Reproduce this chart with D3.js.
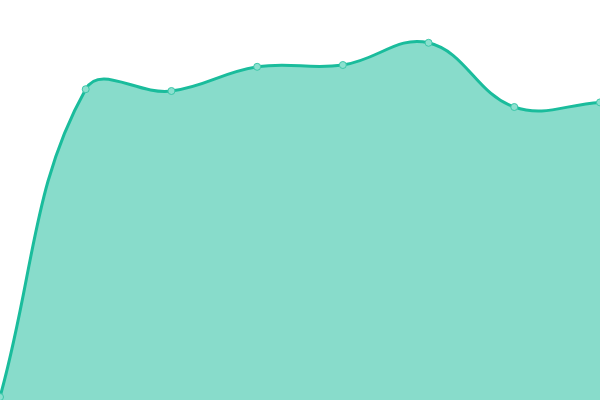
<!DOCTYPE html>
<html>
<head>
<meta charset="utf-8">
<script src="https://cdn.jsdelivr.net/npm/d3@7"></script>
<style>
  html, body { margin: 0; padding: 0; background: #fff; }
  svg { display: block; }
</style>
</head>
<body>
<div id="chart"></div>
<script>
// data
var labels = ["Jan", "Feb", "Mar", "Apr", "May", "Jun", "Jul", "Aug"];
var values = [0.75, 77.7, 77.25, 83.3, 83.75, 89.3, 73.25, 74.4];

var width = 600, height = 400;
var lineColor = "#1abc9c",
  fillColor = "rgba(26,188,156,0.52)",
  tension = 0.4;

var x = d3.scalePoint().domain(labels).range([0, width]);
var y = d3.scaleLinear().domain([0, 100]).range([height, 0]);

var svg = d3.select("#chart").append("svg")
  .attr("width", width)
  .attr("height", height);

var pts = labels.map(function (d, i) { return { x: x(d), y: y(values[i]) }; });

// spline control points, tension relative to neighbour distances
function controls(points) {
  var i, prev, cur, next, d01, d12, fa, fb;
  for (i = 0; i < points.length; i++) {
    cur = points[i];
    prev = points[i - 1] || cur;
    next = points[i + 1] || cur;
    d01 = Math.hypot(cur.x - prev.x, cur.y - prev.y);
    d12 = Math.hypot(next.x - cur.x, next.y - cur.y);
    var s = d01 + d12 || 1;
    fa = tension * d01 / s;
    fb = tension * d12 / s;
    cur.cp1 = { x: cur.x - fa * (next.x - prev.x), y: cur.y - fa * (next.y - prev.y) };
    cur.cp2 = { x: cur.x + fb * (next.x - prev.x), y: cur.y + fb * (next.y - prev.y) };
    [cur.cp1, cur.cp2].forEach(function (c) {
      c.x = Math.max(0, Math.min(width, c.x));
      c.y = Math.max(0, Math.min(height, c.y));
    });
  }
  return points;
}
controls(pts);

function linePath(p, path) {
  path.moveTo(p[0].x, p[0].y);
  for (var i = 1; i < p.length; i++) {
    path.bezierCurveTo(p[i - 1].cp2.x, p[i - 1].cp2.y, p[i].cp1.x, p[i].cp1.y, p[i].x, p[i].y);
  }
  return path;
}

var area = linePath(pts, d3.path());
area.lineTo(pts[pts.length - 1].x, y(0));
area.lineTo(pts[0].x, y(0));
area.closePath();

svg.append("path")
  .attr("d", area.toString())
  .attr("fill", fillColor)
  .attr("stroke", "none");

svg.append("path")
  .attr("d", linePath(pts, d3.path()).toString())
  .attr("fill", "none")
  .attr("stroke", lineColor)
  .attr("stroke-width", 3);

svg.selectAll(".dot")
  .data(pts)
  .enter().append("circle")
  .attr("class", "dot")
  .attr("cx", function (d) { return d.x; })
  .attr("cy", function (d) { return d.y; })
  .attr("r", 3.5)
  .attr("fill", "#8ce0cf")
  .attr("stroke", "#3cc7a9")
  .attr("stroke-width", 1);
</script>
</body>
</html>
